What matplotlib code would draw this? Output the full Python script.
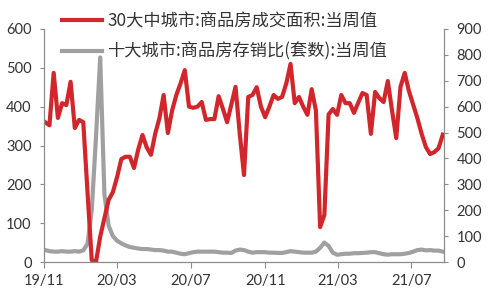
import matplotlib
matplotlib.use("Agg")
import matplotlib.pyplot as plt
import pandas as pd

plt.rcParams['font.family'] = ['Lato', 'Noto Sans CJK SC', 'DejaVu Sans']

dates = pd.date_range("2019-11-03", periods=95, freq="7D")

area_30 = [360, 352, 487, 371, 409, 404, 464, 345, 366, 360,
           180, 5, 0, 65, 113, 160, 180, 219, 265, 271,
           271, 242, 290, 327, 295, 276, 330, 370, 430, 332,
           390, 430, 460, 494, 400, 397, 400, 412, 366, 368,
           368, 427, 395, 360, 405, 451, 330, 224, 425, 430,
           450, 400, 373, 400, 430, 420, 425, 460, 510, 409,
           425, 400, 379, 445, 390, 90, 121, 380, 394, 379,
           430, 409, 409, 384, 410, 435, 430, 330, 438, 422,
           412, 466, 390, 319, 451, 487, 440, 405, 370, 330,
           296, 278, 283, 293, 328]

ratio_10 = [46, 42, 40, 40, 42, 40, 40, 42, 40, 45,
            70, 200, 480, 790, 260, 140, 100, 82, 72, 64,
            58, 55, 52, 50, 50, 48, 46, 46, 44, 40,
            40, 36, 32, 30, 34, 38, 40, 40, 40, 40,
            40, 38, 36, 36, 35, 44, 48, 46, 40, 36,
            38, 38, 38, 36, 36, 35, 35, 38, 42, 40,
            38, 36, 36, 36, 40, 55, 75, 62, 36, 28,
            30, 32, 32, 34, 34, 35, 36, 38, 38, 34,
            30, 28, 30, 30, 30, 32, 35, 40, 46, 48,
            45, 46, 44, 44, 40]

label_red = "30大中城市:商品房成交面积:当周值"
label_gray = "十大城市:商品房存销比(套数):当周值"
left_ticks = [0, 100, 200, 300, 400, 500, 600]
right_ticks = [0, 100, 200, 300, 400, 500, 600, 700, 800, 900]
x_ticks = ["2019-11-01", "2020-03-01", "2020-07-01", "2020-11-01", "2021-03-01", "2021-07-01"]
x_ticklabels = ["19/11", "20/03", "20/07", "20/11", "21/03", "21/07"]

RED = "#d1262c"
GRAY = "#a0a0a0"
SPINE = "#8c8c8c"
TXT = "#333333"

fig = plt.figure(figsize=(5.0, 2.98), dpi=100)
ax = fig.add_axes([44/500, 1-262/298, 400/500, (262-29)/298])
ax2 = ax.twinx()
ax.set_zorder(ax2.get_zorder() + 1)
ax.patch.set_visible(False)

l1, = ax.plot(dates, area_30, color=RED, lw=3.0, solid_joinstyle='round', label=label_red)
l2, = ax2.plot(dates, ratio_10, color=GRAY, lw=3.0, solid_joinstyle='round', label=label_gray)

ax.set_ylim(0, 600)
ax2.set_ylim(0, 900)
ax.set_yticks(left_ticks)
ax2.set_yticks(right_ticks)
ax.set_xlim(pd.Timestamp("2019-11-01"), pd.Timestamp("2021-08-24"))
ax.set_xticks(pd.to_datetime(x_ticks))
ax.set_xticklabels(x_ticklabels)

for a in (ax, ax2):
    a.spines["top"].set_visible(False)
    for s in ("left", "right", "bottom"):
        a.spines[s].set_color(SPINE)
        a.spines[s].set_linewidth(0.9)
ax.spines["right"].set_visible(False)
ax2.spines["left"].set_visible(False)
ax2.spines["bottom"].set_visible(False)

ax.tick_params(axis='y', direction='out', length=3, width=0.8, color=SPINE, labelsize=10.5, labelcolor=TXT, pad=6)
ax2.tick_params(axis='y', direction='out', length=3, width=0.8, color=SPINE, labelsize=10.5, labelcolor=TXT, pad=6)
ax.tick_params(axis='x', direction='out', length=4, width=0.8, color=SPINE, labelsize=10.5, labelcolor=TXT, pad=5)

leg = fig.legend(handles=[l1, l2], loc='upper left', bbox_to_anchor=(62/500, 1-12/298),
                 frameon=False, fontsize=12.4, handlelength=2.35, handletextpad=0.28,
                 labelspacing=0.72, borderaxespad=0, borderpad=0)
for t in leg.get_texts():
    t.set_color(TXT)
    t.set_family(['Noto Sans CJK SC', 'DejaVu Sans'])

fig.savefig("out.png", dpi=100)
